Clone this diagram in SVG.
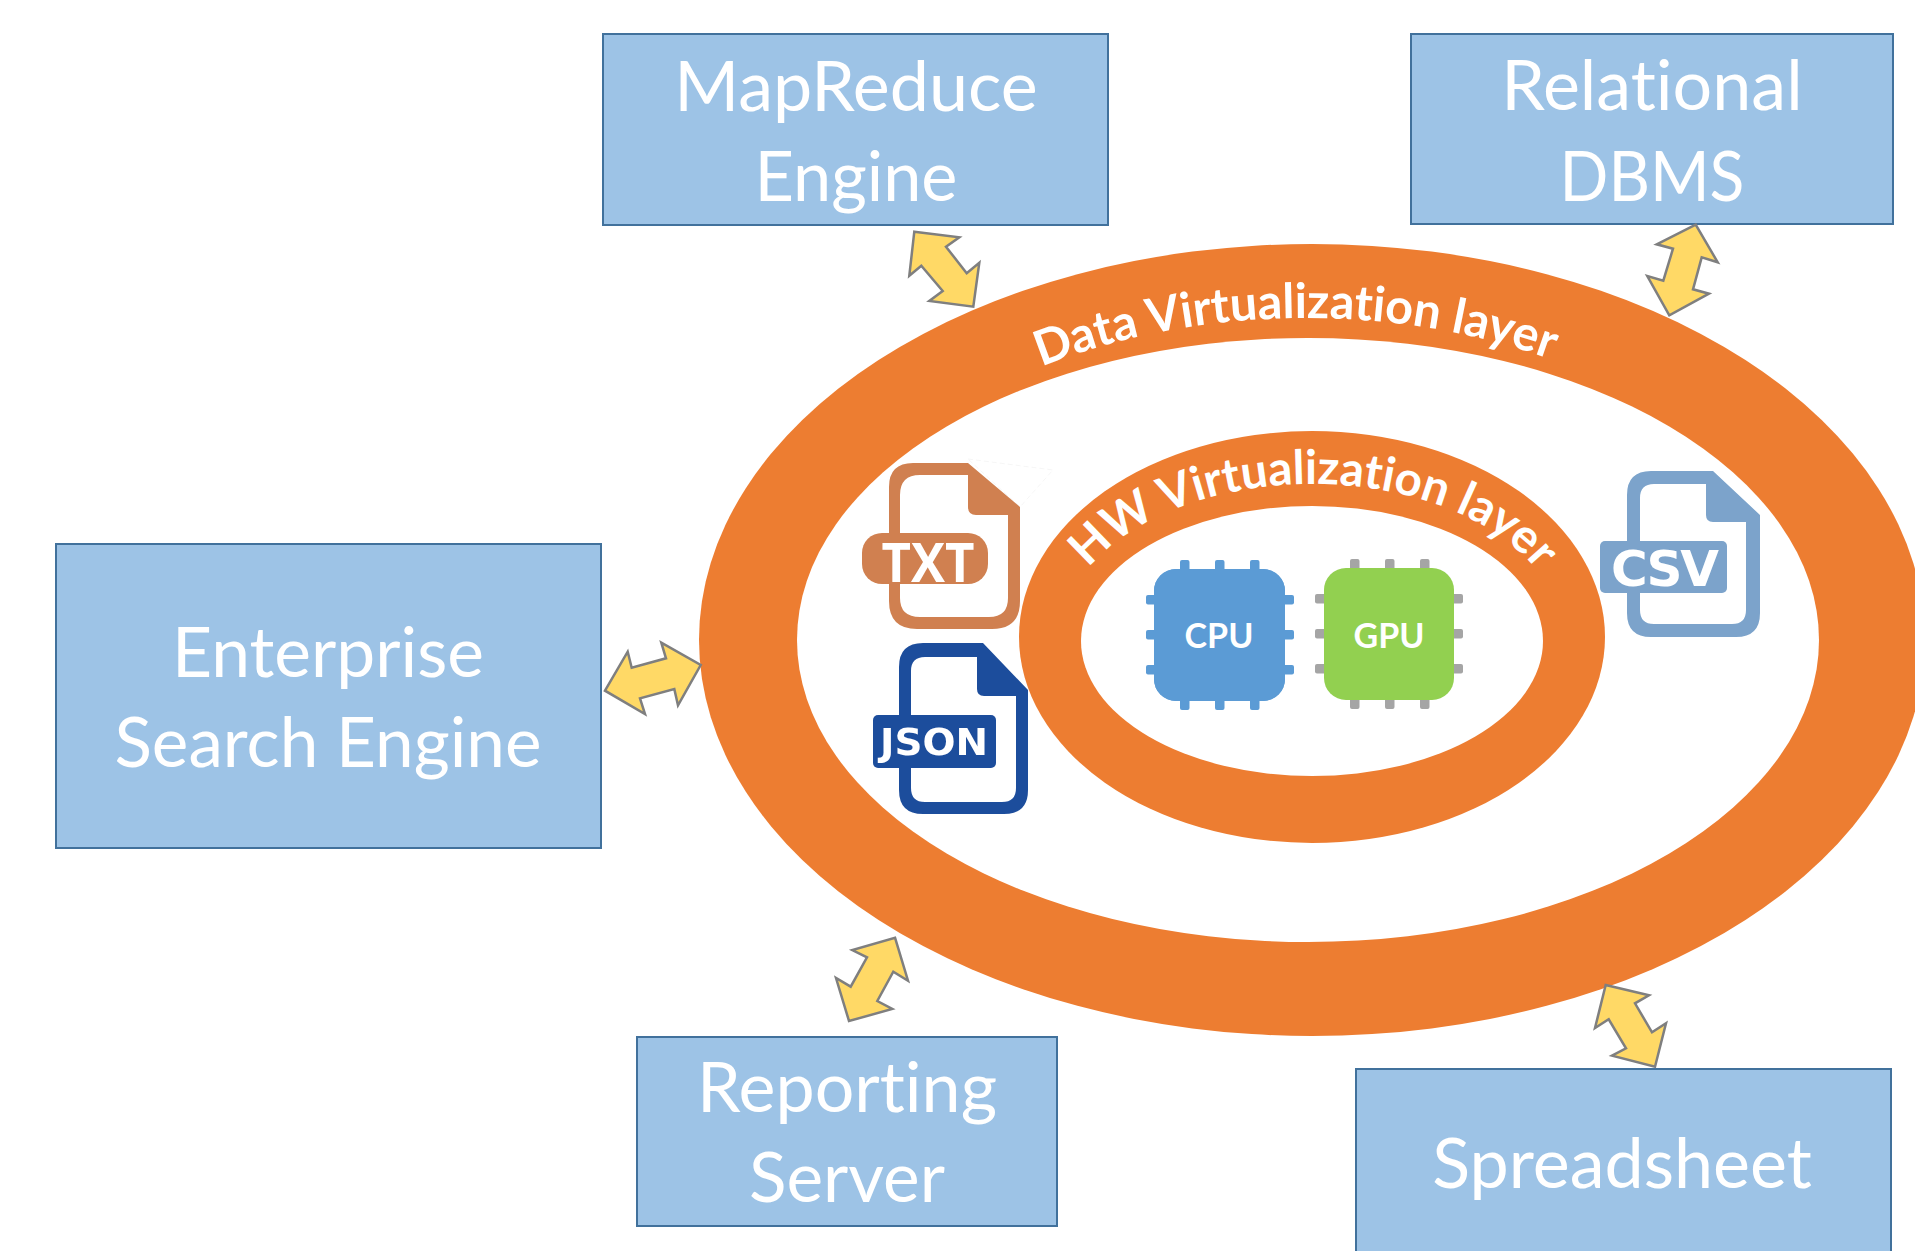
<svg xmlns="http://www.w3.org/2000/svg" width="1915" height="1251" viewBox="0 0 1915 1251">
<style>
text{font-variant-ligatures:none}
.box{fill:#9DC3E6;stroke:#41719C;stroke-width:2}
.lbl{font-family:Lato,"Open Sans",sans-serif;font-size:70px;fill:#fff;text-anchor:middle}
.ring{fill:#ED7D31}
.hole{fill:#fff}
.arr{fill:#FFD966;stroke:#7F7F7F;stroke-width:2.5;stroke-linejoin:miter}
.curve{font-family:Lato,"Open Sans",sans-serif;font-weight:700;fill:#fff;text-anchor:middle}
.chip{font-family:Lato,"Open Sans",sans-serif;font-weight:700;font-size:34px;fill:#fff;text-anchor:middle}
.ftxt{font-family:"Open Sans",sans-serif;font-weight:700;fill:#fff;text-anchor:middle}
.dtxt{font-family:"DejaVu Sans",sans-serif;font-weight:700;fill:#fff;text-anchor:middle}
</style>
<defs>
<path id="arcData" d="M806,640 A500,322 0 0 1 1806,640"/>
<path id="arcHw" d="M1062,637 A250,153 0 0 1 1562,637"/>
<filter id="soft" x="-5%" y="-5%" width="110%" height="110%"><feGaussianBlur stdDeviation="0.7"/></filter>
</defs>
<rect width="1915" height="1251" fill="#fff"/>
<g id="data-virtualization-layer">
<ellipse class="ring" cx="1312" cy="640" rx="613" ry="396"/>
<ellipse class="hole" cx="1308" cy="640" rx="511" ry="302"/>
<text class="curve" font-size="48.5"><textPath href="#arcData" startOffset="49.2%">Data Virtualization layer</textPath></text>
</g>
<g id="hw-virtualization-layer">
<ellipse class="ring" cx="1312" cy="637" rx="293" ry="206"/>
<ellipse class="hole" cx="1312" cy="641" rx="231" ry="135"/>
<text class="curve" font-size="47.5"><textPath href="#arcHw" startOffset="50.2%">HW Virtualization layer</textPath></text>
</g>
<g id="mapreduce">
<rect class="box" x="603" y="34" width="505" height="191"/>
<text class="lbl" x="856" y="111">MapReduce</text>
<text class="lbl" x="856" y="201" textLength="203" lengthAdjust="spacingAndGlyphs">Engine</text>
</g>
<g id="relational-dbms">
<rect class="box" x="1411" y="34" width="482" height="190"/>
<text class="lbl" x="1652" y="110">Relational</text>
<text class="lbl" x="1652" y="201" textLength="185" lengthAdjust="spacingAndGlyphs">DBMS</text>
</g>
<g id="enterprise-search">
<rect class="box" x="56" y="544" width="545" height="304"/>
<text class="lbl" x="328" y="677" textLength="312" lengthAdjust="spacingAndGlyphs">Enterprise</text>
<text class="lbl" x="328" y="767" textLength="427" lengthAdjust="spacingAndGlyphs">Search Engine</text>
</g>
<g id="reporting-server">
<rect class="box" x="637" y="1037" width="420" height="189"/>
<text class="lbl" x="847" y="1112" textLength="300" lengthAdjust="spacingAndGlyphs">Reporting</text>
<text class="lbl" x="847" y="1202" textLength="196" lengthAdjust="spacingAndGlyphs">Server</text>
</g>
<g id="spreadsheet">
<rect class="box" x="1356" y="1069" width="535" height="190"/>
<text class="lbl" x="1622" y="1188">Spreadsheet</text>
</g>
<g id="txt-icon">
<polygon points="968,459 1053,470 1020,507" fill="#fff" stroke="#f0f0f0" stroke-width="0.6" stroke-dasharray="5 3"/>
<path fill="#D08050" fill-rule="evenodd" d="M913,463H968L1020,507V601Q1020,629 992,629H917Q889,629 889,601V487Q889,463 913,463ZM920,475Q900,475 900,495V598Q900,617 920,617H989Q1008,617 1008,598V515H976Q968,515 968,507V475Z"/>
<rect x="862" y="533" width="126" height="51" rx="20" fill="#D08050"/>
<text class="ftxt" x="928" y="582" font-size="54" textLength="93" lengthAdjust="spacingAndGlyphs">TXT</text>
</g>
<g id="json-icon" filter="url(#soft)">
<path fill="#1F4E9C" fill-rule="evenodd" d="M923,643H983L1028,690V790Q1028,814 1004,814H923Q899,814 899,790V667Q899,643 923,643ZM925,657Q911,657 911,671V788Q911,802 925,802H1002Q1016,802 1016,788V696H984Q977,696 977,689V657Z"/>
<rect x="873" y="715" width="123" height="53" rx="5" fill="#1F4E9C"/>
<text class="dtxt" x="934" y="755" font-size="38" textLength="108" lengthAdjust="spacingAndGlyphs">JSON</text>
</g>
<g id="csv-icon" filter="url(#soft)">
<path fill="#7BA3CB" fill-rule="evenodd" d="M1651,471H1713L1760,515V613Q1760,637 1736,637H1651Q1627,637 1627,613V495Q1627,471 1651,471ZM1654,484Q1640,484 1640,498V610Q1640,624 1654,624H1732Q1746,624 1746,610V522H1713Q1706,522 1706,515V484Z"/>
<rect x="1600" y="541" width="127" height="52" rx="5" fill="#7BA3CB"/>
<text class="dtxt" x="1665" y="586" font-size="50" textLength="108" lengthAdjust="spacing">CSV</text>
</g>
<g id="cpu" fill="#5B9BD5">
<rect x="1154" y="569" width="131" height="132" rx="22"/>
<rect x="1180" y="560" width="9.5" height="150" rx="2"/><rect x="1215" y="560" width="9.5" height="150" rx="2"/><rect x="1250" y="560" width="9.5" height="150" rx="2"/>
<rect x="1146" y="595" width="148" height="9.5" rx="2"/><rect x="1146" y="630" width="148" height="9.5" rx="2"/><rect x="1146" y="665" width="148" height="9.5" rx="2"/>
<rect x="1154" y="569" width="131" height="132" rx="22"/>
<text class="chip" x="1219" y="648">CPU</text>
</g>
<g id="gpu">
<g fill="#A5A5A5">
<rect x="1350" y="559" width="9.5" height="150" rx="2"/><rect x="1385" y="559" width="9.5" height="150" rx="2"/><rect x="1420" y="559" width="9.5" height="150" rx="2"/>
<rect x="1315" y="594" width="148" height="9.5" rx="2"/><rect x="1315" y="629" width="148" height="9.5" rx="2"/><rect x="1315" y="664" width="148" height="9.5" rx="2"/>
</g>
<rect x="1324" y="568" width="130" height="132" rx="22" fill="#92D050"/>
<text class="chip" x="1389" y="648">GPU</text>
</g>
<g id="connectors">
<polygon class="arr" points="914.3,231.7 959.3,237.3 946,246.7 966.7,273.3 979.3,262.7 973.3,306.7 929.3,301 942.7,291 921.3,265.7 909.3,275.7"/>
<polygon class="arr" points="605,690.7 627.7,651.7 631.7,667.7 666,658.3 661.3,642.7 700.7,665 678,705.3 674.3,689 640,698.3 645,714"/>
<polygon class="arr" points="895,937.7 908,980.7 893.3,971.7 877.3,1001 892.3,1009 849,1021 836,978 850.7,986.7 867,957.3 852.3,950"/>
<polygon class="arr" points="1605.7,985 1649,995.3 1635,1003.3 1652,1032.3 1666,1023.3 1655,1066.7 1612,1055.7 1626,1048.3 1608.7,1019.3 1595,1028"/>
<polygon class="arr" points="1695.7,224.7 1717.7,262.3 1701.7,257.3 1693,289.3 1709,293.7 1669.3,315.3 1647.3,276 1663.3,280.7 1673,248.7 1656.7,244.3"/>
</g>
</svg>
